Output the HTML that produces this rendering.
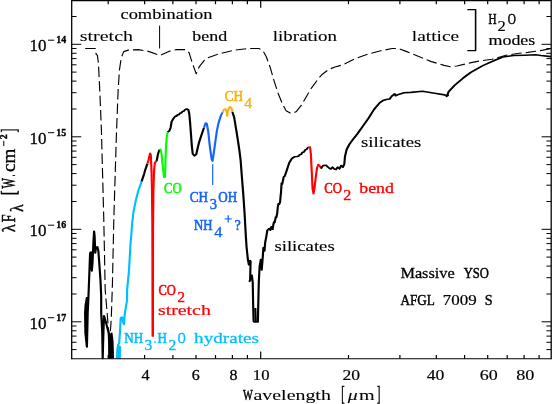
<!DOCTYPE html>
<html><head><meta charset="utf-8"><title>AFGL 7009 S spectrum</title>
<style>
html,body{margin:0;padding:0;background:#fff;}
body{width:552px;height:404px;overflow:hidden;font-family:"Liberation Serif",serif;}
svg{display:block;}
text{white-space:pre;}
</style></head><body>
<svg width="552" height="404" viewBox="0 0 552 404">
<rect x="0" y="0" width="552" height="404" fill="#fff"/>
<g opacity="0.999">
<polyline transform="scale(1.0,1)" points="85.20,48.5 95.40,48.5 96.10,54.1 97.40,55.4 98.40,63.0 99.90,93.4 101.40,130.0 103.80,220.0 105.20,290.0 108.70,331.5 110.00,336.5 111.20,320.0 112.40,285.0 113.80,220.0 116.40,135.0 118.10,90.7 119.40,70.4 121.20,57.8 123.70,51.6 128.30,50.1 138.40,49.6 148.50,51.4 160.00,55.4 168.80,51.4 176.40,49.6 185.30,49.6 189.10,52.7 192.20,62.8 196.20,73.7 199.30,66.6 204.30,60.3 207.90,57.8 215.00,55.2 219.80,53.7 233.70,50.3 248.50,48.5 259.00,48.5 263.00,50.9 266.30,56.8 270.30,67.7 274.30,81.6 278.20,93.5 282.20,103.4 286.10,110.8 291.10,113.5 296.00,111.8 301.40,105.2 307.60,94.5 311.60,87.8 318.10,79.0 321.70,74.8 328.60,69.5 335.00,67.0 342.70,64.8 355.40,58.6 368.00,54.1 380.70,50.8 392.10,48.5 398.50,48.5 406.10,51.4 418.80,56.5 431.40,61.6 444.10,65.4 450.50,66.7 456.80,66.0 470.00,62.9 478.80,61.1 492.00,59.3 506.00,55.3 519.00,53.3 528.00,52.4 535.50,51.3 543.00,50.1 551.00,48.6" fill="none" stroke="#000" stroke-width="1.15" stroke-linejoin="round" stroke-linecap="butt" stroke-dasharray="10.5 4"/>
<polyline transform="scale(1.35,1)" points="64.44,297.0 63.41,305.0 63.04,313.0 63.26,333.0 64.37,347.0 64.67,331.0 64.96,313.0 65.33,303.0 65.70,290.0 66.22,272.0 66.74,253.0 67.26,252.0 68.00,271.0 68.52,263.0 69.19,242.5 69.70,231.3 70.07,235.6 70.59,252.9 71.11,247.7 72.15,246.8 72.89,251.2 73.63,265.0 74.44,280.6 74.96,296.0 74.96,312.9 75.70,331.5 76.07,358.4 76.44,340.0 77.04,315.7 78.44,322.2 80.52,333.3 80.96,345.0 81.19,358.0 81.63,345.0 81.85,337.0 82.59,333.3 83.26,340.8 83.63,358.4" fill="none" stroke="#000" stroke-width="1.6" stroke-linejoin="round" stroke-linecap="butt" />
<polyline transform="scale(1.35,1)" points="64.15,303.0 63.93,318.0 64.07,338.0" fill="none" stroke="#000" stroke-width="1.6" stroke-linejoin="round" stroke-linecap="butt" />
<polyline transform="scale(1.35,1)" points="80.96,358.0 81.11,342.0 81.48,358.0 82.07,338.0 82.67,358.0 82.96,340.0 83.26,358.0" fill="none" stroke="#000" stroke-width="1.6" stroke-linejoin="round" stroke-linecap="butt" />
<polyline transform="scale(1.35,1)" points="86.74,358.4 86.96,349.0 87.56,344.6 88.30,343.1 88.96,329.7 89.41,317.8 90.52,317.1 91.19,322.3 91.93,324.5 92.30,314.9 93.04,308.9 94.15,300.0 94.15,290.0 94.81,280.6 95.48,272.0 96.74,242.5 97.26,235.0 97.85,223.9 98.89,211.8 100.44,201.4 102.37,191.0 104.89,181.5" fill="none" stroke="#00bfff" stroke-width="1.6" stroke-linejoin="round" stroke-linecap="butt" />
<polyline transform="scale(1.35,1)" points="87.11,358.4 87.41,350.0 88.07,346.0 88.74,358.4 88.81,346.0" fill="none" stroke="#00bfff" stroke-width="1.6" stroke-linejoin="round" stroke-linecap="butt" />
<polyline transform="scale(1.35,1)" points="104.89,181.5 106.81,173.7 107.56,170.0 109.19,163.7" fill="none" stroke="#000" stroke-width="1.6" stroke-linejoin="round" stroke-linecap="butt" />
<polyline transform="scale(1.35,1)" points="109.19,163.7 110.30,158.6 111.11,153.4 111.70,154.8 111.93,162.3 112.22,170.0 112.59,190.0 112.89,230.0 113.11,336.4" fill="none" stroke="#ff0000" stroke-width="1.6" stroke-linejoin="round" stroke-linecap="butt" />
<polyline transform="scale(1.35,1)" points="113.26,336.4 113.33,230.0 113.63,190.0 114.15,170.0 114.67,163.0 115.56,161.5 116.07,160.8" fill="none" stroke="#ff0000" stroke-width="1.6" stroke-linejoin="round" stroke-linecap="butt" />
<polyline transform="scale(1.35,1)" points="116.07,160.8 116.89,154.8 117.70,151.1 118.30,149.6" fill="none" stroke="#000" stroke-width="1.6" stroke-linejoin="round" stroke-linecap="butt" />
<polyline transform="scale(1.35,1)" points="118.30,149.6 118.81,149.3 119.63,153.4 120.22,162.3 120.74,167.5 121.04,172.0 121.63,177.3 122.22,177.3 122.44,168.2 122.67,158.6 122.96,147.4 123.41,138.1 124.15,132.0" fill="none" stroke="#00ff00" stroke-width="1.6" stroke-linejoin="round" stroke-linecap="butt" />
<polyline transform="scale(1.35,1)" points="124.15,132.0 125.48,130.8 126.37,127.7 127.11,121.6 128.67,118.2 129.93,116.1 130.81,116.2 131.56,114.7 132.59,114.6 133.33,113.1 134.44,113.0 135.19,111.4 136.30,111.1 137.04,109.6 138.30,109.0 139.56,110.0 140.22,113.9 140.81,122.5 141.48,134.6 142.15,146.8 142.74,153.7 144.07,155.8 145.33,154.5 146.37,148.5 147.26,143.3 148.44,138.3 151.04,127.9" fill="none" stroke="#000" stroke-width="1.6" stroke-linejoin="round" stroke-linecap="butt" />
<polyline transform="scale(1.35,1)" points="151.04,127.9 152.30,123.0 153.19,123.6 154.22,131.4 155.48,147.0 156.74,159.0 157.41,161.1 158.07,155.6 159.33,143.5 160.59,131.4 161.93,122.7 163.56,115.8 164.89,112.3" fill="none" stroke="#1464ff" stroke-width="1.6" stroke-linejoin="round" stroke-linecap="butt" />
<polyline transform="scale(1.35,1)" points="164.89,112.3 165.78,109.7 167.04,108.9 167.93,111.5 168.30,116.1 168.67,111.5 169.63,107.5 170.52,106.8 171.56,108.5 172.15,112.0" fill="none" stroke="#fab010" stroke-width="1.6" stroke-linejoin="round" stroke-linecap="butt" />
<polyline transform="scale(1.35,1)" points="172.15,112.0 173.48,117.5 174.74,127.9 176.00,138.3 177.33,150.4 178.22,160.0 179.19,177.3 180.22,194.6 181.11,212.0 182.07,235.4 182.67,247.5 183.63,259.6 184.37,264.8 185.26,260.5 185.63,261.4 185.26,280.4 184.89,281.3 186.52,275.2 187.19,282.1 187.56,307.3 187.85,321.2 188.44,322.0 191.04,322.0 191.26,307.3 191.70,282.1 192.30,266.6 193.19,259.6 193.85,270.0 194.59,257.9 195.11,247.5 195.93,251.0 196.44,242.3 197.19,237.1 198.07,230.2 199.41,228.5 200.22,230.2 201.04,226.7 201.93,229.3 202.44,225.0 202.96,221.9 203.41,222.6 204.30,216.8 204.67,217.6 205.33,213.3 205.70,208.0 206.22,203.8 206.81,204.2 207.48,202.0 207.85,196.0 208.15,192.5 208.44,186.0 208.59,183.0 209.04,184.2 209.41,181.9 210.15,176.8 210.74,176.6 211.41,174.2 212.74,169.0 214.22,162.9 216.15,158.6 218.07,156.8 220.00,156.5 221.33,156.0 221.93,154.8 223.26,154.2 223.85,152.5 225.19,152.0 226.07,149.9 227.11,149.4 228.37,147.0" fill="none" stroke="#000" stroke-width="1.6" stroke-linejoin="round" stroke-linecap="butt" />
<polyline transform="scale(1.35,1)" points="189.11,308.0 189.48,322.0" fill="none" stroke="#000" stroke-width="1.6" stroke-linejoin="round" stroke-linecap="butt" />
<polyline transform="scale(1.35,1)" points="228.37,147.0 229.63,147.0 230.30,154.2 230.96,173.3 231.56,188.9 232.22,193.7 232.89,188.9 233.78,178.5 234.81,168.1 235.70,164.6 236.67,165.5 237.33,167.2" fill="none" stroke="#ff0000" stroke-width="1.6" stroke-linejoin="round" stroke-linecap="butt" />
<polyline transform="scale(1.35,1)" points="237.33,167.2 238.00,168.1 239.26,165.5 241.19,165.2 242.44,166.4 243.78,168.1 245.04,169.0 246.30,167.2 247.63,169.0 248.89,169.5 250.15,167.2 251.48,168.8 252.74,165.5 254.00,167.2 255.04,164.3 255.56,156.3 256.74,149.6 258.89,144.1 261.33,139.6 264.67,134.0 268.81,126.2 272.89,118.4 277.04,109.5 281.19,102.8 283.63,100.6 286.15,99.5 288.59,99.0 290.22,96.1 292.37,93.9 293.04,95.7 295.19,94.4 299.33,92.8 304.30,92.4 312.96,91.3 321.93,93.3 329.33,94.9 331.41,95.7 330.67,96.3 331.85,95.3 331.11,96.0 332.30,91.7 336.81,85.3 342.74,78.4 348.74,72.4 357.63,65.6 366.59,60.3 372.52,57.0 380.52,55.5 388.59,55.2 396.67,54.8 400.74,55.5 408.15,56.6" fill="none" stroke="#000" stroke-width="1.6" stroke-linejoin="round" stroke-linecap="butt" />
<line x1="159.6" y1="25.6" x2="159.6" y2="48.5" stroke="#000" stroke-width="1.0"/>
<line x1="212.7" y1="164.3" x2="212.7" y2="185.1" stroke="#1464ff" stroke-width="1.2"/>
<polyline transform="scale(1.25,1)" points="373.84,9.5 380.48,9.5 380.48,50.5 373.84,50.5" fill="none" stroke="#000" stroke-width="1.25" stroke-linejoin="round" stroke-linecap="butt" />
<line x1="71.7" y1="0.1" x2="71.7" y2="359.2" stroke="#000" stroke-width="1.3"/>
<line x1="551.2" y1="0.1" x2="551.2" y2="359.2" stroke="#000" stroke-width="1.3"/>
<line x1="71.7" y1="0.6" x2="551.2" y2="0.6" stroke="#000" stroke-width="1.1"/>
<line x1="71.7" y1="358.7" x2="551.2" y2="358.7" stroke="#000" stroke-width="1.1"/>
<line x1="108.2" y1="358.7" x2="108.2" y2="355.1" stroke="#000" stroke-width="1.2"/>
<line x1="108.2" y1="0.6" x2="108.2" y2="4.2" stroke="#000" stroke-width="1.2"/>
<line x1="144.6" y1="358.7" x2="144.6" y2="355.1" stroke="#000" stroke-width="1.2"/>
<line x1="144.6" y1="0.6" x2="144.6" y2="4.2" stroke="#000" stroke-width="1.2"/>
<line x1="172.9" y1="358.7" x2="172.9" y2="355.1" stroke="#000" stroke-width="1.2"/>
<line x1="172.9" y1="0.6" x2="172.9" y2="4.2" stroke="#000" stroke-width="1.2"/>
<line x1="196.0" y1="358.7" x2="196.0" y2="355.1" stroke="#000" stroke-width="1.2"/>
<line x1="196.0" y1="0.6" x2="196.0" y2="4.2" stroke="#000" stroke-width="1.2"/>
<line x1="215.5" y1="358.7" x2="215.5" y2="355.1" stroke="#000" stroke-width="1.2"/>
<line x1="215.5" y1="0.6" x2="215.5" y2="4.2" stroke="#000" stroke-width="1.2"/>
<line x1="232.4" y1="358.7" x2="232.4" y2="355.1" stroke="#000" stroke-width="1.2"/>
<line x1="232.4" y1="0.6" x2="232.4" y2="4.2" stroke="#000" stroke-width="1.2"/>
<line x1="247.4" y1="358.7" x2="247.4" y2="355.1" stroke="#000" stroke-width="1.2"/>
<line x1="247.4" y1="0.6" x2="247.4" y2="4.2" stroke="#000" stroke-width="1.2"/>
<line x1="260.7" y1="358.7" x2="260.7" y2="351.5" stroke="#000" stroke-width="1.2"/>
<line x1="260.7" y1="0.6" x2="260.7" y2="7.8" stroke="#000" stroke-width="1.2"/>
<line x1="348.5" y1="358.7" x2="348.5" y2="355.1" stroke="#000" stroke-width="1.2"/>
<line x1="348.5" y1="0.6" x2="348.5" y2="4.2" stroke="#000" stroke-width="1.2"/>
<line x1="399.9" y1="358.7" x2="399.9" y2="355.1" stroke="#000" stroke-width="1.2"/>
<line x1="399.9" y1="0.6" x2="399.9" y2="4.2" stroke="#000" stroke-width="1.2"/>
<line x1="436.3" y1="358.7" x2="436.3" y2="355.1" stroke="#000" stroke-width="1.2"/>
<line x1="436.3" y1="0.6" x2="436.3" y2="4.2" stroke="#000" stroke-width="1.2"/>
<line x1="464.6" y1="358.7" x2="464.6" y2="355.1" stroke="#000" stroke-width="1.2"/>
<line x1="464.6" y1="0.6" x2="464.6" y2="4.2" stroke="#000" stroke-width="1.2"/>
<line x1="487.7" y1="358.7" x2="487.7" y2="355.1" stroke="#000" stroke-width="1.2"/>
<line x1="487.7" y1="0.6" x2="487.7" y2="4.2" stroke="#000" stroke-width="1.2"/>
<line x1="507.2" y1="358.7" x2="507.2" y2="355.1" stroke="#000" stroke-width="1.2"/>
<line x1="507.2" y1="0.6" x2="507.2" y2="4.2" stroke="#000" stroke-width="1.2"/>
<line x1="524.1" y1="358.7" x2="524.1" y2="355.1" stroke="#000" stroke-width="1.2"/>
<line x1="524.1" y1="0.6" x2="524.1" y2="4.2" stroke="#000" stroke-width="1.2"/>
<line x1="539.1" y1="358.7" x2="539.1" y2="355.1" stroke="#000" stroke-width="1.2"/>
<line x1="539.1" y1="0.6" x2="539.1" y2="4.2" stroke="#000" stroke-width="1.2"/>
<line x1="71.7" y1="321.8" x2="81.3" y2="321.8" stroke="#000" stroke-width="1.0"/>
<line x1="551.2" y1="321.8" x2="541.6" y2="321.8" stroke="#000" stroke-width="1.0"/>
<line x1="71.7" y1="294.0" x2="76.5" y2="294.0" stroke="#000" stroke-width="1.0"/>
<line x1="551.2" y1="294.0" x2="546.4" y2="294.0" stroke="#000" stroke-width="1.0"/>
<line x1="71.7" y1="277.7" x2="76.5" y2="277.7" stroke="#000" stroke-width="1.0"/>
<line x1="551.2" y1="277.7" x2="546.4" y2="277.7" stroke="#000" stroke-width="1.0"/>
<line x1="71.7" y1="266.1" x2="76.5" y2="266.1" stroke="#000" stroke-width="1.0"/>
<line x1="551.2" y1="266.1" x2="546.4" y2="266.1" stroke="#000" stroke-width="1.0"/>
<line x1="71.7" y1="257.1" x2="76.5" y2="257.1" stroke="#000" stroke-width="1.0"/>
<line x1="551.2" y1="257.1" x2="546.4" y2="257.1" stroke="#000" stroke-width="1.0"/>
<line x1="71.7" y1="249.8" x2="76.5" y2="249.8" stroke="#000" stroke-width="1.0"/>
<line x1="551.2" y1="249.8" x2="546.4" y2="249.8" stroke="#000" stroke-width="1.0"/>
<line x1="71.7" y1="243.6" x2="76.5" y2="243.6" stroke="#000" stroke-width="1.0"/>
<line x1="551.2" y1="243.6" x2="546.4" y2="243.6" stroke="#000" stroke-width="1.0"/>
<line x1="71.7" y1="238.3" x2="76.5" y2="238.3" stroke="#000" stroke-width="1.0"/>
<line x1="551.2" y1="238.3" x2="546.4" y2="238.3" stroke="#000" stroke-width="1.0"/>
<line x1="71.7" y1="233.5" x2="76.5" y2="233.5" stroke="#000" stroke-width="1.0"/>
<line x1="551.2" y1="233.5" x2="546.4" y2="233.5" stroke="#000" stroke-width="1.0"/>
<line x1="71.7" y1="229.3" x2="81.3" y2="229.3" stroke="#000" stroke-width="1.0"/>
<line x1="551.2" y1="229.3" x2="541.6" y2="229.3" stroke="#000" stroke-width="1.0"/>
<line x1="71.7" y1="201.5" x2="76.5" y2="201.5" stroke="#000" stroke-width="1.0"/>
<line x1="551.2" y1="201.5" x2="546.4" y2="201.5" stroke="#000" stroke-width="1.0"/>
<line x1="71.7" y1="185.2" x2="76.5" y2="185.2" stroke="#000" stroke-width="1.0"/>
<line x1="551.2" y1="185.2" x2="546.4" y2="185.2" stroke="#000" stroke-width="1.0"/>
<line x1="71.7" y1="173.6" x2="76.5" y2="173.6" stroke="#000" stroke-width="1.0"/>
<line x1="551.2" y1="173.6" x2="546.4" y2="173.6" stroke="#000" stroke-width="1.0"/>
<line x1="71.7" y1="164.6" x2="76.5" y2="164.6" stroke="#000" stroke-width="1.0"/>
<line x1="551.2" y1="164.6" x2="546.4" y2="164.6" stroke="#000" stroke-width="1.0"/>
<line x1="71.7" y1="157.3" x2="76.5" y2="157.3" stroke="#000" stroke-width="1.0"/>
<line x1="551.2" y1="157.3" x2="546.4" y2="157.3" stroke="#000" stroke-width="1.0"/>
<line x1="71.7" y1="151.1" x2="76.5" y2="151.1" stroke="#000" stroke-width="1.0"/>
<line x1="551.2" y1="151.1" x2="546.4" y2="151.1" stroke="#000" stroke-width="1.0"/>
<line x1="71.7" y1="145.8" x2="76.5" y2="145.8" stroke="#000" stroke-width="1.0"/>
<line x1="551.2" y1="145.8" x2="546.4" y2="145.8" stroke="#000" stroke-width="1.0"/>
<line x1="71.7" y1="141.0" x2="76.5" y2="141.0" stroke="#000" stroke-width="1.0"/>
<line x1="551.2" y1="141.0" x2="546.4" y2="141.0" stroke="#000" stroke-width="1.0"/>
<line x1="71.7" y1="136.8" x2="81.3" y2="136.8" stroke="#000" stroke-width="1.0"/>
<line x1="551.2" y1="136.8" x2="541.6" y2="136.8" stroke="#000" stroke-width="1.0"/>
<line x1="71.7" y1="109.0" x2="76.5" y2="109.0" stroke="#000" stroke-width="1.0"/>
<line x1="551.2" y1="109.0" x2="546.4" y2="109.0" stroke="#000" stroke-width="1.0"/>
<line x1="71.7" y1="92.7" x2="76.5" y2="92.7" stroke="#000" stroke-width="1.0"/>
<line x1="551.2" y1="92.7" x2="546.4" y2="92.7" stroke="#000" stroke-width="1.0"/>
<line x1="71.7" y1="81.1" x2="76.5" y2="81.1" stroke="#000" stroke-width="1.0"/>
<line x1="551.2" y1="81.1" x2="546.4" y2="81.1" stroke="#000" stroke-width="1.0"/>
<line x1="71.7" y1="72.1" x2="76.5" y2="72.1" stroke="#000" stroke-width="1.0"/>
<line x1="551.2" y1="72.1" x2="546.4" y2="72.1" stroke="#000" stroke-width="1.0"/>
<line x1="71.7" y1="64.8" x2="76.5" y2="64.8" stroke="#000" stroke-width="1.0"/>
<line x1="551.2" y1="64.8" x2="546.4" y2="64.8" stroke="#000" stroke-width="1.0"/>
<line x1="71.7" y1="58.6" x2="76.5" y2="58.6" stroke="#000" stroke-width="1.0"/>
<line x1="551.2" y1="58.6" x2="546.4" y2="58.6" stroke="#000" stroke-width="1.0"/>
<line x1="71.7" y1="53.3" x2="76.5" y2="53.3" stroke="#000" stroke-width="1.0"/>
<line x1="551.2" y1="53.3" x2="546.4" y2="53.3" stroke="#000" stroke-width="1.0"/>
<line x1="71.7" y1="48.5" x2="76.5" y2="48.5" stroke="#000" stroke-width="1.0"/>
<line x1="551.2" y1="48.5" x2="546.4" y2="48.5" stroke="#000" stroke-width="1.0"/>
<line x1="71.7" y1="44.3" x2="81.3" y2="44.3" stroke="#000" stroke-width="1.0"/>
<line x1="551.2" y1="44.3" x2="541.6" y2="44.3" stroke="#000" stroke-width="1.0"/>
<line x1="71.7" y1="16.5" x2="76.5" y2="16.5" stroke="#000" stroke-width="1.0"/>
<line x1="551.2" y1="16.5" x2="546.4" y2="16.5" stroke="#000" stroke-width="1.0"/>
<line x1="71.7" y1="349.6" x2="76.5" y2="349.6" stroke="#000" stroke-width="1.0"/>
<line x1="551.2" y1="349.6" x2="546.4" y2="349.6" stroke="#000" stroke-width="1.0"/>
<line x1="71.7" y1="342.3" x2="76.5" y2="342.3" stroke="#000" stroke-width="1.0"/>
<line x1="551.2" y1="342.3" x2="546.4" y2="342.3" stroke="#000" stroke-width="1.0"/>
<line x1="71.7" y1="336.1" x2="76.5" y2="336.1" stroke="#000" stroke-width="1.0"/>
<line x1="551.2" y1="336.1" x2="546.4" y2="336.1" stroke="#000" stroke-width="1.0"/>
<line x1="71.7" y1="330.8" x2="76.5" y2="330.8" stroke="#000" stroke-width="1.0"/>
<line x1="551.2" y1="330.8" x2="546.4" y2="330.8" stroke="#000" stroke-width="1.0"/>
<line x1="71.7" y1="326.0" x2="76.5" y2="326.0" stroke="#000" stroke-width="1.0"/>
<line x1="551.2" y1="326.0" x2="546.4" y2="326.0" stroke="#000" stroke-width="1.0"/>
<text transform="translate(120.50,19.20) scale(1.187,1)" font-family="Liberation Serif" font-size="15.5" fill="#000" stroke="#000" stroke-width="0.15661290322580654" >combination</text>
<text transform="translate(79.80,41.00) scale(1.288,1)" font-family="Liberation Serif" font-size="15.5" fill="#000" stroke="#000" stroke-width="0.08" >stretch</text>
<text transform="translate(192.30,41.00) scale(1.158,1)" font-family="Liberation Serif" font-size="15.5" fill="#000" stroke="#000" stroke-width="0.18312256406003827" >bend</text>
<text transform="translate(272.80,41.00) scale(1.224,1)" font-family="Liberation Serif" font-size="15.5" fill="#000" stroke="#000" stroke-width="0.12365829289180713" >libration</text>
<text transform="translate(411.80,40.90) scale(1.251,1)" font-family="Liberation Serif" font-size="15.5" fill="#000" stroke="#000" stroke-width="0.09933207995250344" >lattice</text>
<text transform="translate(488.50,23.90) scale(0.717,1)" font-family="Liberation Serif" font-size="15.5" fill="#000" stroke="#000" stroke-width="0.55" >H</text>
<text transform="translate(497.60,31.00) scale(1.186,1)" font-family="Liberation Serif" font-size="14" fill="#000" stroke="#000" stroke-width="0.15785714285714286" >2</text>
<text transform="translate(507.70,23.90) scale(0.726,1)" font-family="Liberation Serif" font-size="15.5" fill="#000" stroke="#000" stroke-width="0.55" >O</text>
<text transform="translate(488.50,44.90) scale(1.157,1)" font-family="Liberation Serif" font-size="15.5" fill="#000" stroke="#000" stroke-width="0.1838431590656286" >modes</text>
<text transform="translate(361.00,146.60) scale(1.208,1)" font-family="Liberation Serif" font-size="15.5" fill="#000" stroke="#000" stroke-width="0.13764275696253267" >silicates</text>
<text transform="translate(274.40,250.70) scale(1.208,1)" font-family="Liberation Serif" font-size="15.5" fill="#000" stroke="#000" stroke-width="0.13764275696253267" >silicates</text>
<text transform="translate(324.30,193.10) scale(0.822,1)" font-family="Liberation Serif" font-size="15.5" fill="#ff0000" stroke="#ff0000" stroke-width="0.6356173126015316" >CO</text>
<text transform="translate(343.20,200.30) scale(1.143,1)" font-family="Liberation Serif" font-size="14" fill="#ff0000" stroke="#ff0000" stroke-width="0.34642857142857153" >2</text>
<text transform="translate(359.20,193.10) scale(1.154,1)" font-family="Liberation Serif" font-size="15.5" fill="#ff0000" stroke="#ff0000" stroke-width="0.33610788622605525" >bend</text>
<text transform="translate(158.40,295.00) scale(0.808,1)" font-family="Liberation Serif" font-size="15.5" fill="#ff0000" stroke="#ff0000" stroke-width="0.648149222557438" >CO</text>
<text transform="translate(177.50,301.60) scale(1.071,1)" font-family="Liberation Serif" font-size="14" fill="#ff0000" stroke="#ff0000" stroke-width="0.4107142857142858" >2</text>
<text transform="translate(157.90,314.80) scale(1.283,1)" font-family="Liberation Serif" font-size="15.5" fill="#ff0000" stroke="#ff0000" stroke-width="0.22999999999999998" >stretch</text>
<text transform="translate(164.00,192.90) scale(0.817,1)" font-family="Liberation Serif" font-size="15.5" fill="#00ff00" stroke="#00ff00" stroke-width="0.639794615920167" >CO</text>
<text transform="translate(189.80,201.80) scale(0.854,1)" font-family="Liberation Serif" font-size="15.5" fill="#1464ff" stroke="#1464ff" stroke-width="0.6063761893710838" >CH</text>
<text transform="translate(209.70,209.30) scale(0.942,1)" font-family="Liberation Serif" font-size="15.5" fill="#1464ff" stroke="#1464ff" stroke-width="0.5272580645161291" >3</text>
<text transform="translate(218.20,201.80) scale(0.844,1)" font-family="Liberation Serif" font-size="15.5" fill="#1464ff" stroke="#1464ff" stroke-width="0.615540238865945" >OH</text>
<text transform="translate(194.00,230.30) scale(0.822,1)" font-family="Liberation Serif" font-size="15.5" fill="#1464ff" stroke="#1464ff" stroke-width="0.6356317669382745" >NH</text>
<text transform="translate(214.20,236.80) scale(1.171,1)" font-family="Liberation Serif" font-size="14" fill="#1464ff" stroke="#1464ff" stroke-width="0.32071428571428584" >4</text>
<line x1="224.6" y1="218.9" x2="231.8" y2="218.9" stroke="#1464ff" stroke-width="1.1"/>
<line x1="228.2" y1="215.3" x2="228.2" y2="222.5" stroke="#1464ff" stroke-width="1.3"/>
<text transform="translate(234.70,230.30) scale(0.870,1)" font-family="Liberation Serif" font-size="15.5" fill="#1464ff" stroke="#1464ff" stroke-width="0.5921076476984415" >?</text>
<text transform="translate(224.70,100.80) scale(0.845,1)" font-family="Liberation Serif" font-size="15.5" fill="#fab010" stroke="#fab010" stroke-width="0.6147307960083546" >CH</text>
<text transform="translate(244.20,108.20) scale(1.100,1)" font-family="Liberation Serif" font-size="14" fill="#fab010" stroke="#fab010" stroke-width="0.3849999999999999" >4</text>
<text transform="translate(124.30,342.60) scale(0.844,1)" font-family="Liberation Serif" font-size="15.5" fill="#00bfff" stroke="#00bfff" stroke-width="0.615540238865945" >NH</text>
<text transform="translate(144.50,349.70) scale(1.100,1)" font-family="Liberation Serif" font-size="14" fill="#00bfff" stroke="#00bfff" stroke-width="0.3849999999999999" >3</text>
<text transform="translate(154.00,342.60) scale(0.516,1)" font-family="Liberation Serif" font-size="15.5" fill="#00bfff" stroke="#00bfff" stroke-width="0.7000000000000001" >.</text>
<text transform="translate(157.40,342.60) scale(0.833,1)" font-family="Liberation Serif" font-size="15.5" fill="#00bfff" stroke="#00bfff" stroke-width="0.625" >H</text>
<text transform="translate(168.60,349.70) scale(1.114,1)" font-family="Liberation Serif" font-size="14" fill="#00bfff" stroke="#00bfff" stroke-width="0.3721428571428571" >2</text>
<text transform="translate(177.70,342.60) scale(0.699,1)" font-family="Liberation Serif" font-size="15.5" fill="#00bfff" stroke="#00bfff" stroke-width="0.7000000000000001" >O</text>
<text transform="translate(194.10,342.60) scale(1.235,1)" font-family="Liberation Serif" font-size="15.5" fill="#00bfff" stroke="#00bfff" stroke-width="0.2633813873822438" >hydrates</text>
<text transform="translate(400.40,277.60) scale(1.052,1)" font-family="Liberation Serif" font-size="15.5" fill="#000" stroke="#000" stroke-width="0.2778606664409732" >Massive</text>
<text transform="translate(463.70,277.60) scale(0.816,1)" font-family="Liberation Serif" font-size="15.5" fill="#000" stroke="#000" stroke-width="0.49048387096774193" >YSO</text>
<text transform="translate(400.40,305.30) scale(0.850,1)" font-family="Liberation Serif" font-size="15.5" fill="#000" stroke="#000" stroke-width="0.4597052280311458" >AFGL</text>
<text transform="translate(442.80,305.30) scale(1.094,1)" font-family="Liberation Serif" font-size="15.5" fill="#000" stroke="#000" stroke-width="0.24080645161290326" >7009</text>
<text transform="translate(484.70,305.30) scale(0.918,1)" font-family="Liberation Serif" font-size="15.5" fill="#000" stroke="#000" stroke-width="0.39849607672188325" >S</text>
<text transform="translate(243.00,399.70) scale(0.669,1)" font-family="Liberation Serif" font-size="15.5" fill="#000" stroke="#000" stroke-width="0.55" >W</text>
<text transform="translate(253.50,399.70) scale(1.285,1)" font-family="Liberation Serif" font-size="15.5" fill="#000" stroke="#000" stroke-width="0.08" >avelength</text>
<text transform="translate(341.30,400.20) scale(0.507,1)" font-family="Liberation Serif" font-size="20" fill="#000" stroke="#000" stroke-width="0.55" >[</text>
<text transform="translate(347.70,399.70) scale(1.278,1)" font-family="Liberation Serif" font-size="15.5" fill="#000" stroke="#000" stroke-width="0.08" font-style="italic">μ</text>
<text transform="translate(359.00,399.70) scale(1.299,1)" font-family="Liberation Serif" font-size="15.5" fill="#000" stroke="#000" stroke-width="0.08" >m</text>
<text transform="translate(376.90,400.20) scale(0.507,1)" font-family="Liberation Serif" font-size="20" fill="#000" stroke="#000" stroke-width="0.55" >]</text>
<text transform="translate(141.40,380.40) scale(1.065,1)" font-family="Liberation Serif" font-size="15.4" fill="#000" stroke="#000" stroke-width="0.26655844155844166" >4</text>
<text transform="translate(191.80,380.40) scale(1.039,1)" font-family="Liberation Serif" font-size="15.4" fill="#000" stroke="#000" stroke-width="0.28993506493506505" >6</text>
<text transform="translate(229.40,380.40) scale(1.039,1)" font-family="Liberation Serif" font-size="15.4" fill="#000" stroke="#000" stroke-width="0.28993506493506505" >8</text>
<text transform="translate(252.85,380.40) scale(1.084,1)" font-family="Liberation Serif" font-size="15.4" fill="#000" stroke="#000" stroke-width="0.24902597402597415" >10</text>
<text transform="translate(342.50,380.40) scale(1.143,1)" font-family="Liberation Serif" font-size="15.4" fill="#000" stroke="#000" stroke-width="0.19642857142857129" >20</text>
<text transform="translate(426.65,380.40) scale(1.149,1)" font-family="Liberation Serif" font-size="15.4" fill="#000" stroke="#000" stroke-width="0.19058441558441558" >40</text>
<text transform="translate(479.80,380.40) scale(1.169,1)" font-family="Liberation Serif" font-size="15.4" fill="#000" stroke="#000" stroke-width="0.17305194805194812" >60</text>
<text transform="translate(516.20,380.40) scale(1.182,1)" font-family="Liberation Serif" font-size="15.4" fill="#000" stroke="#000" stroke-width="0.16136363636363651" >80</text>
<text transform="translate(29.60,51.10) scale(1.030,1)" font-family="Liberation Serif" font-size="16.5" fill="#000" stroke="#000" stroke-width="0.29772727272727273" >10</text>
<line x1="48.0" y1="40.2" x2="54.2" y2="40.2" stroke="#000" stroke-width="1.0"/>
<text transform="translate(56.20,43.10) scale(0.943,1)" font-family="Liberation Serif" font-size="10.5" fill="#000" stroke="#000" stroke-width="0.37642857142857145" font-weight="bold">14</text>
<text transform="translate(29.60,143.60) scale(1.030,1)" font-family="Liberation Serif" font-size="16.5" fill="#000" stroke="#000" stroke-width="0.29772727272727273" >10</text>
<line x1="48.0" y1="132.7" x2="54.2" y2="132.7" stroke="#000" stroke-width="1.0"/>
<text transform="translate(56.20,135.60) scale(0.943,1)" font-family="Liberation Serif" font-size="10.5" fill="#000" stroke="#000" stroke-width="0.37642857142857145" font-weight="bold">15</text>
<text transform="translate(29.60,236.10) scale(1.030,1)" font-family="Liberation Serif" font-size="16.5" fill="#000" stroke="#000" stroke-width="0.29772727272727273" >10</text>
<line x1="48.0" y1="225.2" x2="54.2" y2="225.2" stroke="#000" stroke-width="1.0"/>
<text transform="translate(56.20,228.10) scale(0.943,1)" font-family="Liberation Serif" font-size="10.5" fill="#000" stroke="#000" stroke-width="0.37642857142857145" font-weight="bold">16</text>
<text transform="translate(29.60,328.60) scale(1.030,1)" font-family="Liberation Serif" font-size="16.5" fill="#000" stroke="#000" stroke-width="0.29772727272727273" >10</text>
<line x1="48.0" y1="317.7" x2="54.2" y2="317.7" stroke="#000" stroke-width="1.0"/>
<text transform="translate(56.20,320.60) scale(0.943,1)" font-family="Liberation Serif" font-size="10.5" fill="#000" stroke="#000" stroke-width="0.37642857142857145" font-weight="bold">17</text>
<g transform="translate(15.1,232.5) rotate(-90)">
<text transform="translate(0.30,0.00) scale(0.892,1)" font-family="Liberation Serif" font-size="18.5" fill="#000" stroke="#000" stroke-width="0.422548063527445" >λ</text>
<text transform="translate(9.90,0.00) scale(0.789,1)" font-family="Liberation Serif" font-size="18.5" fill="#000" stroke="#000" stroke-width="0.5149926953981009" >F</text>
<text transform="translate(20.40,8.20) scale(0.858,1)" font-family="Liberation Serif" font-size="18.5" fill="#000" stroke="#000" stroke-width="0.4526400111451657" >λ</text>
<text transform="translate(37.20,0.30) scale(0.714,1)" font-family="Liberation Serif" font-size="20.5" fill="#000" stroke="#000" stroke-width="0.55" >[</text>
<text transform="translate(43.90,0.00) scale(0.595,1)" font-family="Liberation Serif" font-size="18.5" fill="#000" stroke="#000" stroke-width="0.55" >W</text>
<text transform="translate(56.00,0.00) scale(0.432,1)" font-family="Liberation Serif" font-size="18.5" fill="#000" stroke="#000" stroke-width="0.55" >.</text>
<text transform="translate(60.50,0.00) scale(1.032,1)" font-family="Liberation Serif" font-size="18.5" fill="#000" stroke="#000" stroke-width="0.2958905626938415" >cm</text>
<line x1="86.3" y1="-11.3" x2="91.7" y2="-11.3" stroke="#000" stroke-width="1.0"/>
<text transform="translate(93.20,-7.90) scale(0.933,1)" font-family="Liberation Serif" font-size="10.5" fill="#000" stroke="#000" stroke-width="0.385" font-weight="bold">2</text>
<text transform="translate(100.10,0.30) scale(0.582,1)" font-family="Liberation Serif" font-size="20.5" fill="#000" stroke="#000" stroke-width="0.55" >]</text>
</g>
</g>
</svg>
</body></html>
